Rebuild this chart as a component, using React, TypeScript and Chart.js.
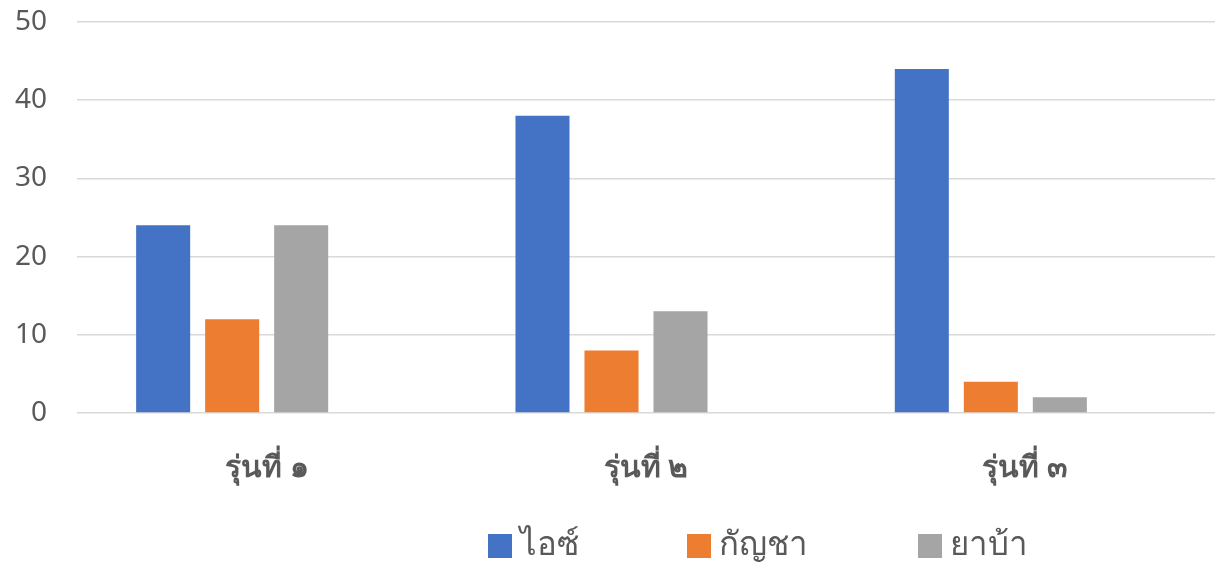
import React, { useEffect, useRef } from "react";
import { Chart, registerables } from "chart.js";

Chart.register(...registerables);

const categories = ["รุ่นที่ ๑", "รุ่นที่ ๒", "รุ่นที่ ๓"];
const seriesNames = ["ไอซ์", "กัญชา", "ยาบ้า"];
const iceValues = [24, 38, 44];
const cannabisValues = [12, 8, 4];
const methValues = [24, 13, 2];
const emptySeries = [null, null, null];
const seriesColors = ["#4472C4", "#ED7D31", "#A5A5A5"];

const FONT = "'Noto Sans', 'DejaVu Sans', sans-serif";

const legendPlugin = {
  id: "customLegend",
  afterDraw(chart: any) {
    const ctx = chart.ctx;
    ctx.save();
    ctx.font = `33px ${FONT}`;
    ctx.textBaseline = "middle";
    ctx.textAlign = "left";
    const y = 546;
    const starts = [488, 687, 918];
    seriesNames.forEach((name, i) => {
      const x = starts[i];
      ctx.fillStyle = seriesColors[i];
      ctx.fillRect(x, y - 12, 24, 24);
      ctx.fillStyle = "#595959";
      ctx.fillText(name, x + 32, y);
    });
    ctx.restore();
  },
};

export default function App() {
  const ref = useRef<HTMLCanvasElement>(null);
  useEffect(() => {
    if (!ref.current) return;
    const chart = new Chart(ref.current, {
      type: "bar",
      data: {
        labels: categories,
        datasets: [
          { label: seriesNames[0], data: iceValues, backgroundColor: seriesColors[0] },
          { label: seriesNames[1], data: cannabisValues, backgroundColor: seriesColors[1] },
          { label: seriesNames[2], data: methValues, backgroundColor: seriesColors[2] },
          { label: "", data: emptySeries as any, backgroundColor: "rgba(0,0,0,0)" },
        ],
      },
      plugins: [legendPlugin],
      options: {
        animation: false,
        responsive: false,
        maintainAspectRatio: false,
        datasets: {
          bar: { categoryPercentage: 0.7277, barPercentage: 0.783 },
        },
        layout: { padding: { top: 22, left: 0, right: 9, bottom: 68 } },
        plugins: {
          legend: { display: false },
          tooltip: { enabled: false },
        },
        scales: {
          x: {
            grid: { display: false, drawTicks: false },
            border: { display: false },
            ticks: {
              color: "#595959",
              font: { family: FONT, size: 30, weight: "bold" },
              padding: 37,
            },
            afterFit(scale: any) {
              scale.height = 90;
            },
          },
          y: {
            min: 0,
            max: 50,
            grid: { color: "#D9D9D9", lineWidth: 1.5, drawTicks: false },
            border: { display: false },
            ticks: {
              stepSize: 10,
              color: "#595959",
              font: { family: FONT, size: 28 },
              padding: 30,
            },
            afterFit(scale: any) {
              scale.width = 77;
              scale.paddingTop = 0;
              scale.paddingBottom = 0;
            },
          },
        },
      } as any,
    });
    return () => chart.destroy();
  }, []);
  return (
    <div style={{ position: "fixed", left: 0, top: 0, width: 1224, height: 571, background: "#fff" }}>
      <canvas ref={ref} width={1224} height={571} style={{ display: "block" }} />
    </div>
  );
}
